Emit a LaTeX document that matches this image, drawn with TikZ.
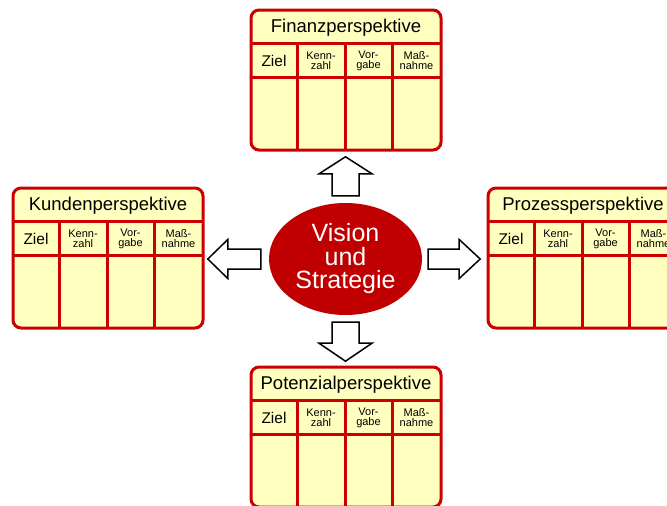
\documentclass[tikz,border=0pt]{standalone}
\usepackage{fontspec}
\setmainfont{Liberation Sans}
\usetikzlibrary{shapes.geometric}

\definecolor{boxred}{RGB}{204,0,0}
\definecolor{hubred}{RGB}{192,0,0}
\definecolor{boxyellow}{RGB}{255,255,192}

\tikzset{
  boxline/.style={draw=boxred, line width=3pt},
  boxfill/.style={fill=boxyellow},
  titletext/.style={font=\fontsize{18.5}{20}\selectfont, inner sep=0pt},
  zieltext/.style={font=\fontsize{15.5}{16}\selectfont, inner sep=0pt},
  smalltext/.style={font=\fontsize{11}{10}\selectfont, align=center, inner sep=0pt},
  arrowline/.style={draw=black, fill=white, line width=1.5pt, line join=miter},
  hub/.style={ellipse, fill=hubred, minimum width=153pt, minimum height=112pt,
    inner sep=0pt, text=white, align=center, font=\fontsize{25}{23.5}\selectfont},
  % one perspective table, top left corner at the pic's origin
  pics/perspective/.style={
    code={
      \fill[boxfill, rounded corners=8pt] (0,0) rectangle (190,140);
      \draw[boxline] (0,33) -- (190,33) (0,67) -- (190,67)
        (46,33) -- (46,140) (94,33) -- (94,140) (141,33) -- (141,140);
      \draw[boxline, rounded corners=8pt] (0,0) rectangle (190,140);
      \node[titletext] (-title) at (95,17.5) {#1};
      \node[zieltext] (-ziel) at (23,51) {Ziel};
      \node[smalltext] (-kenn) at (70,51) {Kenn-\\zahl};
      \node[smalltext] (-vor) at (117.5,51) {Vor-\\gabe};
      \node[smalltext] (-mass) at (165.5,51) {Maß-\\nahme};
    }
  },
  % block arrow pointing along x: length, shaft width, head width, head length
  pics/fatarrow/.style n args={4}{
    code={
      \draw[arrowline] (0,-#2/2) -- (#1-#4,-#2/2) -- (#1-#4,-#3/2) -- (#1,0)
        -- (#1-#4,#3/2) -- (#1-#4,#2/2) -- (0,#2/2) -- cycle;
    }
  }
}

\begin{document}
\begin{tikzpicture}[x=1pt, y=-1pt]

\useasboundingbox (0,0) rectangle (667,506);

% The centre
\node[hub] (vis) at (345.5,259) {Vision\\und\\Strategie};

% The four perspectives
\pic (fin) at (251,10) {perspective={Finanzperspektive}};
\pic (kun) at (13,188) {perspective={Kundenperspektive}};
\pic (pro) at (488,188) {perspective={Prozessperspektive}};
\pic (pot) at (251,367) {perspective={Potenzialperspektive}};

% Block arrows out of the centre
\pic[rotate=90] at ([yshift=7pt]vis.north) {fatarrow={39}{27}{53}{17}};
\pic[rotate=-90] at ([yshift=-7pt]vis.south) {fatarrow={39}{27}{53}{18}};
\pic[rotate=180] at ([xshift=-8pt]vis.west) {fatarrow={53}{20}{39}{20}};
\pic at ([xshift=6pt]vis.east) {fatarrow={52}{20}{39}{21}};

\end{tikzpicture}
\end{document}
